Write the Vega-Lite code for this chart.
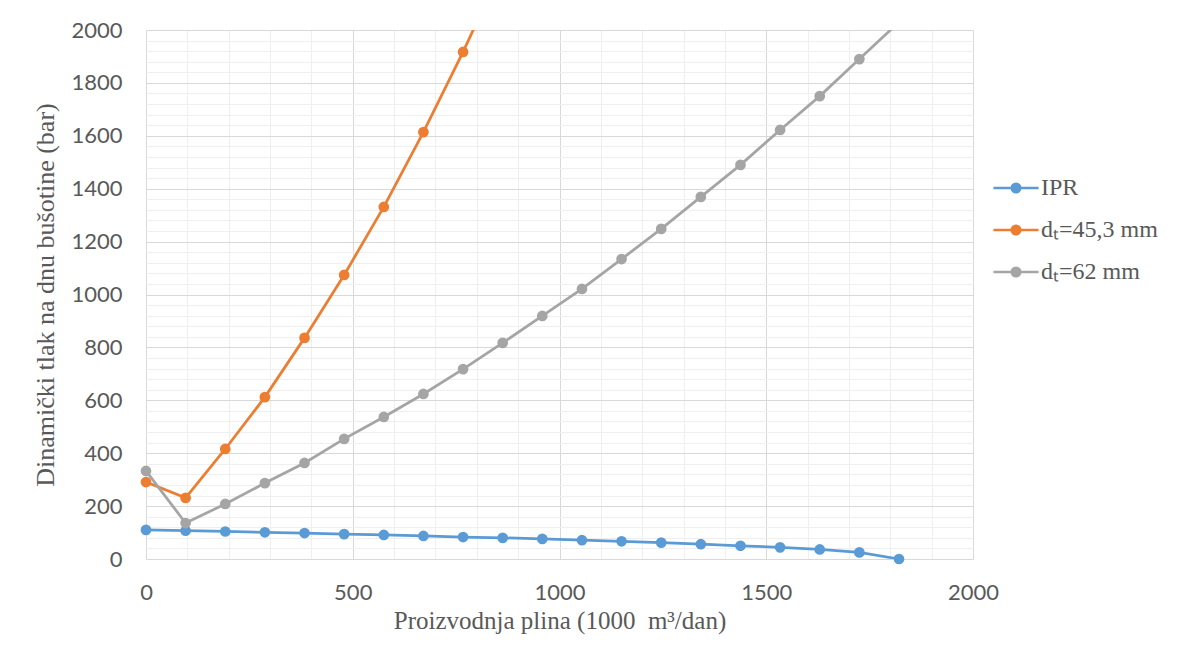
{
  "$schema": "https://vega.github.io/schema/vega-lite/v6.json",
  "width": 827,
  "height": 529,
  "autosize": {"type": "none"},
  "padding": {"left": 146, "top": 30, "right": 205, "bottom": 87},
  "background": "white",
  "data": {
    "values": [
      {"q": 0, "p": 110, "s": "IPR"},
      {"q": 95.8, "p": 107, "s": "IPR"},
      {"q": 191.7, "p": 104, "s": "IPR"},
      {"q": 287.5, "p": 101, "s": "IPR"},
      {"q": 383.4, "p": 98, "s": "IPR"},
      {"q": 479.2, "p": 94, "s": "IPR"},
      {"q": 575.1, "p": 91, "s": "IPR"},
      {"q": 670.9, "p": 87, "s": "IPR"},
      {"q": 766.8, "p": 83, "s": "IPR"},
      {"q": 862.6, "p": 80, "s": "IPR"},
      {"q": 958.4, "p": 76, "s": "IPR"},
      {"q": 1054.3, "p": 71, "s": "IPR"},
      {"q": 1150.1, "p": 67, "s": "IPR"},
      {"q": 1246, "p": 62, "s": "IPR"},
      {"q": 1341.8, "p": 56, "s": "IPR"},
      {"q": 1437.7, "p": 50, "s": "IPR"},
      {"q": 1533.5, "p": 44, "s": "IPR"},
      {"q": 1629.4, "p": 36, "s": "IPR"},
      {"q": 1725.2, "p": 25, "s": "IPR"},
      {"q": 1821, "p": 0, "s": "IPR"},
      {"q": 0, "p": 291, "s": "dₜ=45,3 mm"},
      {"q": 95.8, "p": 231, "s": "dₜ=45,3 mm"},
      {"q": 191.7, "p": 416, "s": "dₜ=45,3 mm"},
      {"q": 287.5, "p": 612, "s": "dₜ=45,3 mm"},
      {"q": 383.4, "p": 836, "s": "dₜ=45,3 mm"},
      {"q": 479.2, "p": 1074, "s": "dₜ=45,3 mm"},
      {"q": 575.1, "p": 1331, "s": "dₜ=45,3 mm"},
      {"q": 670.9, "p": 1614, "s": "dₜ=45,3 mm"},
      {"q": 766.8, "p": 1917, "s": "dₜ=45,3 mm"},
      {"q": 862.6, "p": 2240, "s": "dₜ=45,3 mm"},
      {"q": 0, "p": 333, "s": "dₜ=62 mm"},
      {"q": 95.8, "p": 136, "s": "dₜ=62 mm"},
      {"q": 191.7, "p": 208, "s": "dₜ=62 mm"},
      {"q": 287.5, "p": 287, "s": "dₜ=62 mm"},
      {"q": 383.4, "p": 363, "s": "dₜ=62 mm"},
      {"q": 479.2, "p": 454, "s": "dₜ=62 mm"},
      {"q": 575.1, "p": 537, "s": "dₜ=62 mm"},
      {"q": 670.9, "p": 624, "s": "dₜ=62 mm"},
      {"q": 766.8, "p": 718, "s": "dₜ=62 mm"},
      {"q": 862.6, "p": 817, "s": "dₜ=62 mm"},
      {"q": 958.4, "p": 919, "s": "dₜ=62 mm"},
      {"q": 1054.3, "p": 1021, "s": "dₜ=62 mm"},
      {"q": 1150.1, "p": 1134, "s": "dₜ=62 mm"},
      {"q": 1246, "p": 1248, "s": "dₜ=62 mm"},
      {"q": 1341.8, "p": 1369, "s": "dₜ=62 mm"},
      {"q": 1437.7, "p": 1490, "s": "dₜ=62 mm"},
      {"q": 1533.5, "p": 1622, "s": "dₜ=62 mm"},
      {"q": 1629.4, "p": 1750, "s": "dₜ=62 mm"},
      {"q": 1725.2, "p": 1890, "s": "dₜ=62 mm"},
      {"q": 1821, "p": 2030, "s": "dₜ=62 mm"}
    ]
  },
  "encoding": {
    "x": {
      "field": "q",
      "type": "quantitative",
      "scale": {"domain": [0, 2000], "nice": false, "zero": false},
      "axis": {
        "values": [0,100,200,300,400,500,600,700,800,900,1000,1100,1200,1300,1400,1500,1600,1700,1800,1900,2000],
        "labelExpr": "datum.value % 500 === 0 ? datum.label : ''",
        "format": "d",
        "gridColor": {"condition": {"test": "datum.value % 500 === 0", "value": "#d9d9d9"}, "value": "#efefef"},
        "title": "Proizvodnja plina (1000\u00a0 m³/dan)",
        "titleFont": "Liberation Serif",
        "titleFontSize": 25,
        "titleFontWeight": "normal",
        "titleColor": "#595959",
        "titlePadding": 5,
        "labelFont": "Lato",
        "labelFontSize": 22,
        "labelColor": "#595959",
        "labelPadding": 23,
        "labelFlush": false,
        "ticks": false,
        "domain": false
      }
    },
    "y": {
      "field": "p",
      "type": "quantitative",
      "scale": {"domain": [0, 2000], "nice": false},
      "axis": {
        "values": [0,40,80,120,160,200,240,280,320,360,400,440,480,520,560,600,640,680,720,760,800,840,880,920,960,1000,1040,1080,1120,1160,1200,1240,1280,1320,1360,1400,1440,1480,1520,1560,1600,1640,1680,1720,1760,1800,1840,1880,1920,1960,2000],
        "labelExpr": "datum.value % 200 === 0 ? datum.label : ''",
        "format": "d",
        "gridColor": {"condition": {"test": "datum.value % 200 === 0", "value": "#d9d9d9"}, "value": "#efefef"},
        "title": "Dinamički tlak na dnu bušotine (bar)",
        "titleFont": "Liberation Serif",
        "titleFontSize": 26,
        "titleFontWeight": "normal",
        "titleColor": "#595959",
        "titlePadding": 12,
        "labelFont": "Lato",
        "labelFontSize": 22,
        "labelColor": "#595959",
        "labelPadding": 24,
        "labelFlush": false,
        "ticks": false,
        "domain": false
      }
    },
    "color": {
      "field": "s",
      "type": "nominal",
      "sort": ["IPR", "dₜ=45,3 mm", "dₜ=62 mm"],
      "scale": {"domain": ["IPR", "dₜ=45,3 mm", "dₜ=62 mm"], "range": ["#5b9bd5", "#ed7d31", "#a5a5a5"]},
      "legend": {
        "title": null,
        "orient": "none",
        "legendX": 847,
        "legendY": 135,
        "padding": 0,
        "rowPadding": 7,
        "symbolType": "M-1.05,0L1.05,0M-0.04,0A0.04,0.04 0 1,1 0.04,0A0.04,0.04 0 1,1 -0.04,0M-0.09,0A0.09,0.09 0 1,1 0.09,0A0.09,0.09 0 1,1 -0.09,0M-0.14,0A0.14,0.14 0 1,1 0.14,0A0.14,0.14 0 1,1 -0.14,0M-0.2,0A0.2,0.2 0 1,1 0.2,0A0.2,0.2 0 1,1 -0.2,0",
        "symbolSize": 1849,
        "symbolStrokeWidth": 2.5,
        "labelFont": "Liberation Serif",
        "labelFontSize": 24,
        "labelColor": "#595959",
        "labelOffset": 2,
        "labelLimit": 300
      }
    }
  },
  "layer": [
    {"mark": {"type": "line", "strokeWidth": 2.75, "clip": true}},
    {
      "transform": [{"filter": "datum.p <= 2000"}],
      "mark": {"type": "point", "filled": true, "size": 115, "opacity": 1}
    }
  ],
  "config": {"view": {"stroke": null}}
}
